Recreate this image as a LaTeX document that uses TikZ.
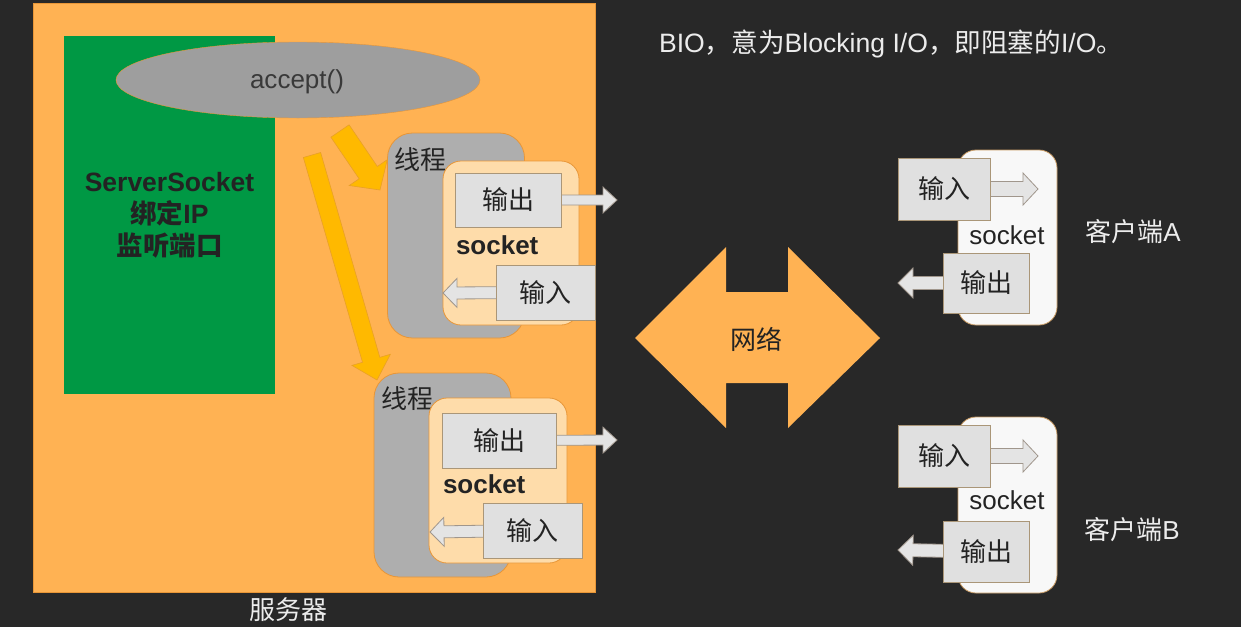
\documentclass[tikz,border=0pt]{standalone}
\usepackage{fontspec}
\setmainfont{Liberation Sans}
\newfontfamily\cjk{Noto Sans CJK SC}
\usetikzlibrary{calc,shapes.geometric}
\pgfdeclarelayer{fg}
\pgfsetlayers{main,fg}
\definecolor{bg}{RGB}{40,40,40}
\definecolor{srvorange}{RGB}{255,178,83}
\definecolor{srvedge}{RGB}{232,150,55}
\definecolor{ssgreen}{RGB}{0,152,68}
\definecolor{accgray}{RGB}{158,158,158}
\definecolor{thrgray}{RGB}{174,174,174}
\definecolor{sockorange}{RGB}{254,220,170}
\definecolor{boxgray}{RGB}{224,224,224}
\definecolor{boxedge}{RGB}{170,150,120}
\definecolor{arrgray}{RGB}{228,228,228}
\definecolor{arredge}{RGB}{160,150,140}
\definecolor{yel}{RGB}{255,185,0}
\definecolor{yeledge}{RGB}{232,160,40}
\definecolor{cliwhite}{RGB}{248,248,248}
\definecolor{cliedge}{RGB}{200,155,100}
\definecolor{txtdark}{RGB}{35,35,35}
\definecolor{txtlight}{RGB}{236,236,236}
\newcommand\zh[1]{{\cjk #1}}
\newcommand\fs{\fontsize{26}{32}\selectfont}
% block arrow: style, from, to, shaft half width, head half width, head length
\newcommand\barrow[6]{%
  \path[#1] let \p1=(#2), \p2=(#3), \n1={atan2(\y2-\y1,\x2-\x1)} in
   ($(\p1)+({\n1-90}:#4pt)$)
   -- ($(\p2)+({\n1+180}:#6pt)+({\n1-90}:#4pt)$)
   -- ($(\p2)+({\n1+180}:#6pt)+({\n1-90}:#5pt)$)
   -- (\p2)
   -- ($(\p2)+({\n1+180}:#6pt)+({\n1+90}:#5pt)$)
   -- ($(\p2)+({\n1+180}:#6pt)+({\n1+90}:#4pt)$)
   -- ($(\p1)+({\n1+90}:#4pt)$) -- cycle;}
\begin{document}
\begin{tikzpicture}[x=1pt,y=-1pt,
  every node/.style={inner sep=0pt,outer sep=0pt,font=\fs,text=txtdark},
  thr/.style={draw=srvedge, fill=thrgray, rounded corners=25pt, line width=0.8pt},
  sockbox/.style={draw=srvedge, fill=sockorange, rounded corners=18pt, line width=0.8pt},
  iobox/.style={draw=boxedge, fill=boxgray, line width=0.8pt},
  clibox/.style={draw=cliedge, fill=cliwhite, rounded corners=18pt, line width=0.8pt},
  warr/.style={draw=arredge, fill=arrgray, line width=0.8pt},
  yarr/.style={draw=yeledge, fill=yel, line width=0.6pt},
  light/.style={text=txtlight}]
\useasboundingbox (0,0) rectangle (1241,627);
\fill[bg] (0,0) rectangle (1241,627);
% server
\node[draw=srvedge, fill=srvorange, minimum width=562pt, minimum height=589pt] (srv) at (314,297.5) {};
\node[fill=ssgreen, minimum width=211pt, minimum height=358pt] (ss) at (169.5,215) {};
\node[font=\fontsize{26.5}{32}\selectfont\bfseries, align=center] (sstxt) at (169.5,215) {ServerSocket\\\zh{绑定}IP\\\zh{监听端口}};
\node[ellipse, draw=srvedge, fill=accgray, minimum width=364pt, minimum height=76pt] (acc) at (298,80) {};
\node[text=txtdark!90] (acctxt) at (297,82) {accept()};
\node[light] (srvlbl) at (288,610) {\zh{服务器}};
% threads and sockets
\node[thr, minimum width=137pt, minimum height=205pt] (t1) at (456,235.5) {};
\node[anchor=west] (t1lbl) at (394,160) {\zh{线程}};
\node[sockbox, minimum width=136pt, minimum height=164pt] (s1) at (511,243) {};
\node[anchor=west, font=\fs\bfseries] (s1lbl) at (456,245) {socket};
\node[thr, minimum width=137pt, minimum height=204pt] (t2) at (442.5,475) {};
\node[anchor=west] (t2lbl) at (381,399) {\zh{线程}};
\node[sockbox, minimum width=138pt, minimum height=165pt] (s2) at (498,480.5) {};
\node[anchor=west, font=\fs\bfseries] (s2lbl) at (443,484) {socket};
% yellow arrows
\coordinate (y1s) at (340,131);
\coordinate (y1e) at (380,190);
\coordinate (y2s) at (312,155);
\coordinate (y2e) at (377,380);
\barrow{yarr}{y1s}{y1e}{11}{23}{21}
\barrow{yarr}{y2s}{y2e}{9}{20}{21}
% clients
\node[clibox, minimum width=99pt, minimum height=175pt] (ca) at (1007.5,237.5) {};
\node (calbl) at (1007,235) {socket};
\node[clibox, minimum width=99pt, minimum height=176pt] (cb) at (1007.5,505) {};
\node (cblbl) at (1007,500) {socket};
\node[light] (caname) at (1133,232) {\zh{客户端}A};
\node[light] (cbname) at (1132,530) {\zh{客户端}B};
% network
\fill[srvorange] (635,338) -- (726,247) -- (726,292) -- (788,292) -- (788,247) -- (880,338)
  -- (788,428) -- (788,383) -- (726,383) -- (726,428) -- cycle;
\node (net) at (756,339) {\zh{网络}};
% title
\node[light, anchor=west, font=\fontsize{26.6}{32}\selectfont] (title) at (659,44) {BIO\zh{，意为}Blocking I/O\zh{，即阻塞的}I/O\zh{。}};
% io boxes on top layer
\begin{pgfonlayer}{fg}
\node[iobox, minimum width=106pt, minimum height=54pt] (o1) at (508,200) {\zh{输出}};
\node[iobox, minimum width=99pt, minimum height=55pt] (i1) at (545.5,292.5) {\zh{输入}};
\node[iobox, minimum width=114pt, minimum height=55pt] (o2) at (499,440.5) {\zh{输出}};
\node[iobox, minimum width=99pt, minimum height=55pt] (i2) at (532.5,530.5) {\zh{输入}};
\node[iobox, minimum width=92pt, minimum height=62pt] (ia) at (944,189) {\zh{输入}};
\node[iobox, minimum width=86pt, minimum height=60pt] (oa) at (986,283) {\zh{输出}};
\node[iobox, minimum width=92pt, minimum height=62pt] (ib) at (944,456) {\zh{输入}};
\node[iobox, minimum width=86pt, minimum height=61pt] (ob) at (986,551.5) {\zh{输出}};
\end{pgfonlayer}
% white block arrows (under the io boxes)
\coordinate (o1t) at (617,200);
\coordinate (i1t) at (443,293);
\coordinate (o2t) at (617,440);
\coordinate (i2t) at (430,532);
\coordinate (iat) at (1038,189);
\coordinate (oat) at (898,283);
\coordinate (ibt) at (1038,456);
\coordinate (obt) at (898,550);
\barrow{warr}{o1.center}{o1t}{5}{13}{14}
\barrow{warr}{i1.center}{i1t}{6}{14.5}{14}
\barrow{warr}{o2.center}{o2t}{5}{13}{14}
\barrow{warr}{i2.center}{i2t}{6}{14.5}{14}
\barrow{warr}{ia.center}{iat}{7.5}{16}{15}
\barrow{warr}{oa.center}{oat}{6.5}{15}{15}
\barrow{warr}{ib.center}{ibt}{7.5}{16}{15}
\barrow{warr}{ob.center}{obt}{6.5}{15}{15}
\end{tikzpicture}
\end{document}
